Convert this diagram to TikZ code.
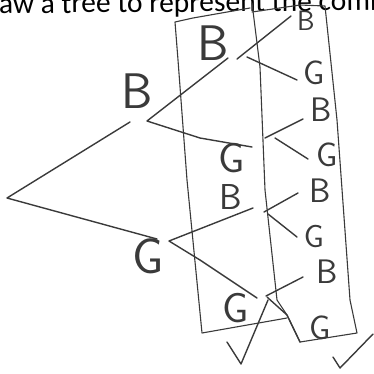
\documentclass[tikz,border=0pt]{standalone}
\usepackage{fontspec}
\newfontfamily\calib{Carlito}
\definecolor{pencilc}{HTML}{3A3A3A}
\begin{document}
\begin{tikzpicture}[x=1pt,y=-1pt,
  pencil/.style={draw=pencilc, line width=1.4pt, line cap=round, line join=round},
  lab/.style={inner sep=0pt, text=pencilc, font=\sffamily\fontsize{#1}{#1}\selectfont},
  lab/.default=34]
\useasboundingbox (0,0) rectangle (374,373);
% cut-off heading
\node[anchor=base west, inner sep=0pt, font=\calib\fontsize{29.5}{30}\selectfont, rotate=0.45] (title) at (-1,13.5) {aw a tree to represent the comb};

% coordinates of the tree
\coordinate (root) at (7,198);
\coordinate (b1e) at (130,122);
\coordinate (g1e) at (157,239);
\coordinate (b1s) at (147,121);
\coordinate (g1s) at (169,241);
\coordinate (b2e) at (228,58);
\coordinate (b2m) at (200,138);
\coordinate (g2e) at (252,147);
\coordinate (b2le) at (253,208);
\coordinate (g2lm) at (200,260);
\coordinate (g2le) at (257,298);
% third-level starts and ends
\coordinate (p1s) at (237,59);  \coordinate (p1e) at (291,16);
\coordinate (p2s) at (247,57);  \coordinate (p2e) at (297,80);
\coordinate (p3s) at (265,138); \coordinate (p3e) at (303,119);
\coordinate (p4s) at (275,138); \coordinate (p4e) at (308,159);
\coordinate (p5s) at (264,212); \coordinate (p5e) at (298,193);
\coordinate (p6s) at (268,214); \coordinate (p6e) at (297,237);
\coordinate (p7s) at (266,296); \coordinate (p7e) at (303,277);
\coordinate (p8s) at (267,297); \coordinate (p8m) at (287,315); \coordinate (p8e) at (300,342);

% labels
\node[lab=50] (B1) at (137,91) {B};
\node[lab=50] (G1) at (148,256) {G};
\node[lab=50] (B2) at (213,43) {B};
\node[lab=42] (G2) at (232,158) {G};
\node[lab=36] (B2l) at (231,197) {B};
\node[lab=42] (G2l) at (236,308) {G};
\node[lab=28] (B31) at (306,21) {B};
\node[lab=34] (G31) at (314,73) {G};
\node[lab=34] (B32) at (321,110) {B};
\node[lab=34] (G32) at (327,155) {G};
\node[lab=34] (B33) at (320,191) {B};
\node[lab=32] (G33) at (314,236) {G};
\node[lab=34] (B34) at (327,272) {B};
\node[lab=34] (G34) at (320,328) {G};

% branches
\draw[pencil] (b1e) -- (root) -- (g1e);
\draw[pencil] (b2e) -- (b1s) -- (b2m) -- (g2e);
\draw[pencil] (b2le) -- (g1s) -- (g2lm) -- (g2le);
\draw[pencil] (p1s) -- (p1e);
\draw[pencil] (p2s) -- (p2e);
\draw[pencil] (p3s) -- (p3e);
\draw[pencil] (p4s) -- (p4e);
\draw[pencil] (p5s) -- (p5e);
\draw[pencil] (p6s) -- (p6e);
\draw[pencil] (p7s) -- (p7e);
\draw[pencil] (p8s) -- (p8m) -- (p8e);

% boxes
\coordinate (l1) at (175,22);
\coordinate (l2) at (193,18);
\coordinate (l3) at (250,8);
\coordinate (l4) at (178,60);
\coordinate (l5) at (187,180);
\coordinate (l6) at (202,333);
\coordinate (l7) at (287,318);
\draw[pencil, line width=1.1pt] (l3) -- (l2) -- (l1) -- (l4) -- (l5) -- (l6) -- (l7);
\coordinate (m1) at (252,3);
\coordinate (m2) at (260,67);
\coordinate (m3) at (265,190);
\coordinate (m4) at (277,300);
\draw[pencil, line width=1.1pt] (m1) -- (m2) -- (m3) -- (m4) -- (p8m) -- (p8e);
\coordinate (r1) at (252,12);
\coordinate (r2) at (300,5);
\coordinate (r3) at (325,6);
\coordinate (r4) at (337,120);
\coordinate (r5) at (350,300);
\coordinate (r6) at (357,333);
\draw[pencil, line width=1.1pt] (r1) -- (r2) -- (r3) -- (r4) -- (r5) -- (r6) -- (p8e);

% ticks
\coordinate (c1a) at (227,342); \coordinate (c1b) at (241,364); \coordinate (c1c) at (268,300);
\coordinate (c2a) at (333,357); \coordinate (c2b) at (340,368); \coordinate (c2c) at (373,334);
\draw[pencil] (c1a) -- (c1b) -- (c1c);
\draw[pencil] (c2a) -- (c2b) -- (c2c);
\end{tikzpicture}
\end{document}
